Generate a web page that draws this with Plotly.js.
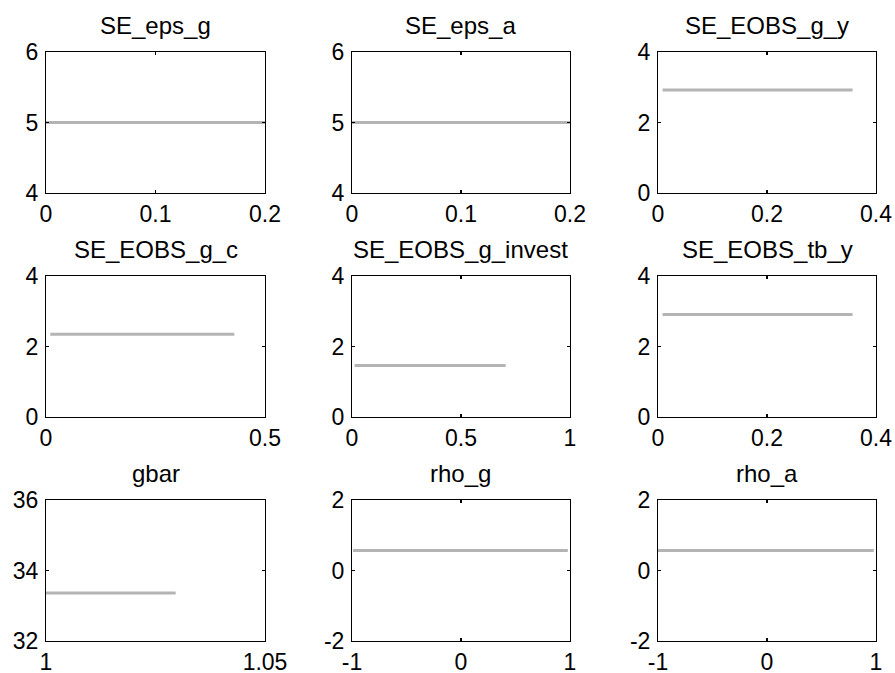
<!DOCTYPE html>
<html>
<head>
<meta charset="utf-8">
<script src="https://cdn.plot.ly/plotly-3.0.1.min.js"></script>
<style>html,body{margin:0;padding:0;background:#fff;}#chart{width:895px;height:673px;}</style>
</head>
<body>
<div id="chart"></div>
<script>
// Panel names (subplot titles)
const titles = ["SE_eps_g", "SE_eps_a", "SE_EOBS_g_y", "SE_EOBS_g_c", "SE_EOBS_g_invest", "SE_EOBS_tb_y", "gbar", "rho_g", "rho_a"];
// Horizontal line: value and x extent for each panel
const lineValue = [5, 5, 2.92, 2.35, 1.46, 2.91, 33.36, 0.565, 0.565];
const lineXStart = [0, 0, 0.0084, 0.0098, 0.012, 0.0084, 1.0, -0.99, -1.0];
const lineXEnd = [0.2, 0.2, 0.357, 0.43, 0.705, 0.357, 1.0296, 0.98, 0.98];
// Axis ticks
const xTicks = [[0, 0.1, 0.2], [0, 0.1, 0.2], [0, 0.2, 0.4], [0, 0.5], [0, 0.5, 1], [0, 0.2, 0.4], [1, 1.05], [-1, 0, 1], [-1, 0, 1]];
const xTickText = [["0", "0.1", "0.2"], ["0", "0.1", "0.2"], ["0", "0.2", "0.4"], ["0", "0.5"], ["0", "0.5", "1"], ["0", "0.2", "0.4"], ["1", "1.05"], ["-1", "0", "1"], ["-1", "0", "1"]];
const yTicks = [[4, 5, 6], [4, 5, 6], [0, 2, 4], [0, 2, 4], [0, 2, 4], [0, 2, 4], [32, 34, 36], [-2, 0, 2], [-2, 0, 2]];

const W = 895, H = 673;
const colPx = [[46, 265], [352, 570], [658, 876]];
const rowPx = [[52, 193], [276, 417], [500, 641]];
const FONT = "Liberation Sans, Arial, sans-serif";

const data = [];
const layout = {
  width: W, height: H,
  margin: {l: 0, r: 0, t: 0, b: 0},
  paper_bgcolor: "#fff", plot_bgcolor: "#fff",
  showlegend: false,
  font: {family: FONT, size: 23, color: "#000"},
  annotations: []
};

for (let i = 0; i < 9; i++) {
  const r = Math.floor(i / 3), c = i % 3;
  const n = i === 0 ? "" : String(i + 1);
  const xa = "x" + n, ya = "y" + n;
  data.push({
    type: "scatter", mode: "lines",
    x: [lineXStart[i], lineXEnd[i]],
    y: [lineValue[i], lineValue[i]],
    xaxis: xa, yaxis: ya,
    line: {color: "rgb(180,180,180)", width: 3},
    hoverinfo: "skip"
  });
  const xt = xTicks[i], yt = yTicks[i];
  const common = {
    showline: true, linecolor: "#000", linewidth: 1,
    mirror: "ticks", ticks: "inside", ticklen: 3, tickwidth: 1.5, tickcolor: "#000",
    showgrid: false, zeroline: false,
    tickfont: {family: FONT, size: 23, color: "#000"}
  };
  layout["xaxis" + n] = Object.assign({}, common, {
    domain: [colPx[c][0] / W, colPx[c][1] / W],
    range: [xt[0], xt[xt.length - 1]],
    tickmode: "array", tickvals: xt, ticktext: xTickText[i],
    ticklabelstandoff: 0,
    anchor: ya
  });
  layout["yaxis" + n] = Object.assign({}, common, {
    domain: [(H - rowPx[r][1]) / H, (H - rowPx[r][0]) / H],
    range: [yt[0], yt[yt.length - 1]],
    tickmode: "array", tickvals: yt, ticktext: yt.map(String),
    ticklabelstandoff: 2,
    anchor: xa
  });
  layout.annotations.push({
    text: titles[i], showarrow: false,
    xref: "paper", yref: "paper",
    x: (colPx[c][0] + colPx[c][1]) / 2 / W,
    y: (H - rowPx[r][0] + 11) / H,
    xanchor: "center", yanchor: "bottom",
    font: {family: FONT, size: 24, color: "#000"}
  });
}

Plotly.newPlot("chart", data, layout, {staticPlot: true, displayModeBar: false});
</script>
</body>
</html>
